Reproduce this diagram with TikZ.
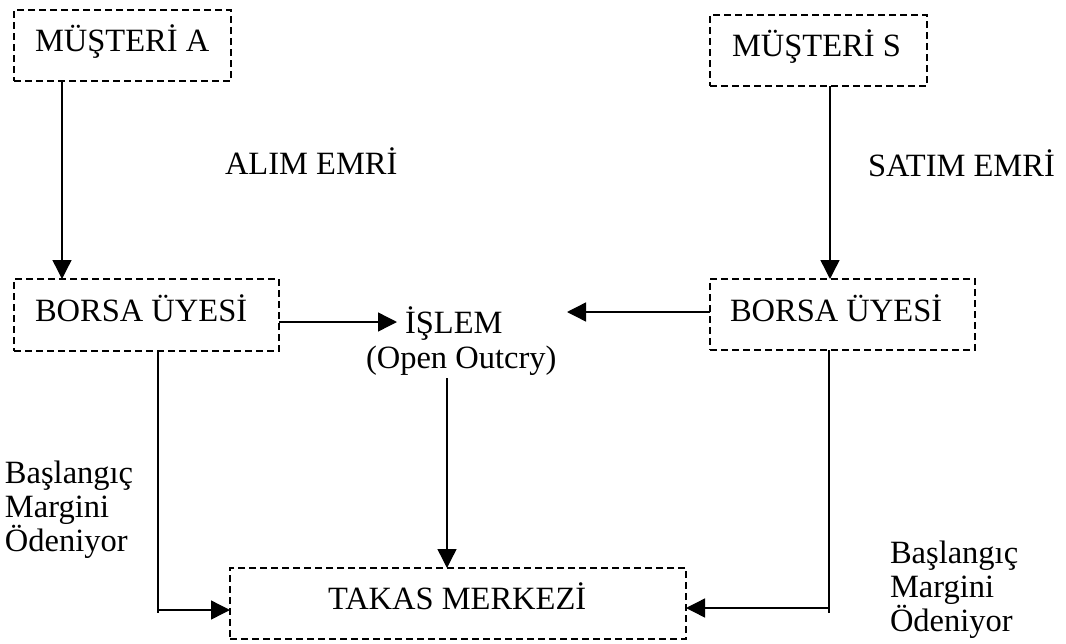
\documentclass[tikz,border=0pt]{standalone}
\usepackage{fontspec}
\setmainfont{Liberation Serif}
\usetikzlibrary{arrows.meta}
\tikzset{
  box/.style={draw, line width=1.4pt, dash pattern=on 7pt off 4pt, inner sep=0pt, outer sep=0pt, anchor=north west},
  txt/.style={inner sep=0pt, outer sep=0pt, anchor=base west, font=\fontsize{32.5}{34}\selectfont},
  lbl/.style={inner sep=0pt, outer sep=0pt, anchor=base west, align=left, font=\fontsize{32.5}{34}\selectfont},
  conn/.style={line width=1.4pt},
  arr/.style={line width=1.4pt, -{Triangle[length=19pt,width=19pt]}}
}
\begin{document}
\begin{tikzpicture}[x=1pt,y=-1pt]
\useasboundingbox (0,0) rectangle (1066,643);
% boxes
\node[box, minimum width=217pt, minimum height=71pt] (ma) at (14,10) {};
\node[box, minimum width=217pt, minimum height=71pt] (ms) at (710,15) {};
\node[box, minimum width=265pt, minimum height=72pt] (bl) at (14,279) {};
\node[box, minimum width=265pt, minimum height=71pt] (br) at (710,279) {};
\node[box, minimum width=456pt, minimum height=71pt] (tk) at (230,568) {};
% texts
\node[txt] (maT) at (35,51) {MÜŞTERİ A};
\node[txt] (msT) at (732,56) {MÜŞTERİ S};
\node[txt] (alim) at (225,174) {ALIM EMRİ};
\node[txt] (satim) at (868,176) {SATIM EMRİ};
\node[txt] (blT) at (35,321) {BORSA ÜYESİ};
\node[txt] (brT) at (730,321) {BORSA ÜYESİ};
\node[txt] (islem) at (405,333) {İŞLEM};
\node[txt] (oc) at (366,368) {(Open Outcry)};
\node[txt] (tkT) at (328,609) {TAKAS MERKEZİ};
\node[lbl] (lblL) at (5,551) {Başlangıç\\Margini\\Ödeniyor};
\node[lbl] (lblR) at (890,631) {Başlangıç\\Margini\\Ödeniyor};
% helper coordinates
\coordinate (xA) at (62,0);
\coordinate (xS) at (830,0);
\coordinate (xM) at (447,0);
\coordinate (xL) at (158,0);
\coordinate (xR) at (829,0);
\coordinate (yL) at (0,322);
\coordinate (yR) at (0,312);
\coordinate (tipL) at (397,322);
\coordinate (tipR) at (567,312);
\coordinate (mTop) at (447,378);
\coordinate (endL) at (158,613);
\coordinate (jL) at (158,610);
\coordinate (endR) at (829,613);
\coordinate (jR) at (829,608);
% connectors
\draw[arr] (ma.south -| xA) -- (bl.north -| xA);
\draw[arr] (ms.south -| xS) -- (br.north -| xS);
\draw[arr] (bl.east |- yL) -- (tipL);
\draw[arr] (br.west |- yR) -- (tipR);
\draw[arr] (mTop) -- (tk.north -| xM);
\draw[conn] (bl.south -| xL) -- (endL);
\draw[arr] (jL) -- (tk.west |- jL);
\draw[conn] (br.south -| xR) -- (endR);
\draw[arr] (jR) -- (tk.east |- jR);
\end{tikzpicture}
\end{document}
